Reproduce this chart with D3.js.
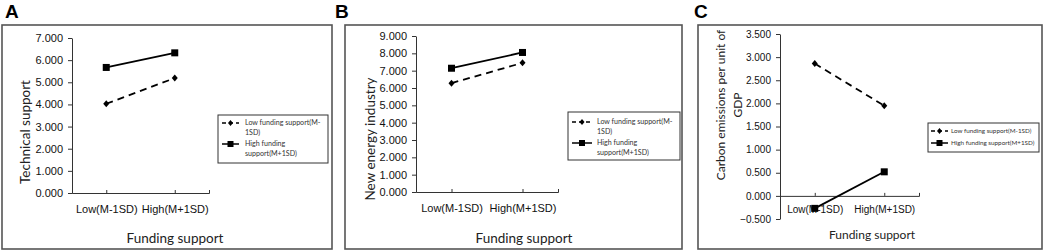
<!DOCTYPE html>
<html>
<head>
<meta charset="utf-8">
<script src="https://cdn.jsdelivr.net/npm/d3@7"></script>
<style>
  body { margin: 0; background: #fff; }
  svg { display: block; }
  .tick text { font-family: 'Liberation Sans', Arial, sans-serif; fill: #111; }
</style>
</head>
<body>
<div id="svg-container"></div>
<script>
// Data
const categories = ['Low(M-1SD)', 'High(M+1SD)']
const techLow = [4.03, 5.19]
const techHigh = [5.67, 6.33]
const energyLow = [6.28, 7.45]
const energyHigh = [7.14, 8.05]
const carbonLow = [2.86, 1.95]
const carbonHigh = [-0.27, 0.52]
const techTicks = [0, 1, 2, 3, 4, 5, 6, 7]
const energyTicks = [0, 1, 2, 3, 4, 5, 6, 7, 8, 9]
const carbonTicks = [-0.5, 0, 0.5, 1, 1.5, 2, 2.5, 3, 3.5]
const legendWrapped = [
  ['Low funding support(M-', '1SD)'],
  ['High funding', 'support(M+1SD)'],
]
const legendSingle = [['Low funding support(M-1SD)'], ['High funding support(M+1SD)']]

// Layout
var svgWidth = 1045,
  svgHeight = 252

var svg = d3
  .select('#svg-container')
  .append('svg')
  .attr('width', svgWidth)
  .attr('height', svgHeight)

const panels = [
  {
    letter: 'A', lx: 5, frame: [2, 25, 332, 249],
    x: [72, 209], y: [193, 38], domain: [0, 7], ticks: techTicks,
    low: techLow, high: techHigh,
    yTitle: ['Technical support'], yTitleX: 25, yTitleY: 132, titleFs: 13.5,
    xTitleX: 175, xTitleY: 238, tickFs: 11, xPad: 12,
    legend: legendWrapped, legendFs: 7.1, box: [218, 115, 328, 163], sample: [222, 239], textX: 245, entryY: [123, 144],
  },
  {
    letter: 'B', lx: 335, frame: [345, 25, 682, 249],
    x: [416, 558], y: [192, 36], domain: [0, 9], ticks: energyTicks,
    low: energyLow, high: energyHigh,
    yTitle: ['New energy industry'], yTitleX: 370, yTitleY: 139, titleFs: 13.5,
    xTitleX: 524, xTitleY: 238, tickFs: 11, xPad: 12,
    legend: legendWrapped, legendFs: 7.1, box: [568, 112, 680, 160], sample: [572, 592], textX: 597, entryY: [122, 143],
  },
  {
    letter: 'C', lx: 694, frame: [698, 25, 1042, 249],
    x: [780, 919], y: [219, 34], domain: [-0.5, 3.5], ticks: carbonTicks,
    low: carbonLow, high: carbonHigh,
    yTitle: ['Carbon emissions per unit of', 'GDP'], yTitleX: 729, yTitleY: 105, titleFs: 12,
    xTitleX: 872, xTitleY: 235, tickFs: 10, xPad: 10,
    legend: legendSingle, legendFs: 6.3, box: [928, 123, 1039, 152], sample: [931, 948], textX: 951, entryY: [131, 143],
  },
]

function drawMarker(g, type, cx, cy) {
  if (type === 'square') {
    g.append('rect')
      .attr('x', cx - 3.5)
      .attr('y', cy - 3.5)
      .attr('width', 7)
      .attr('height', 7)
      .attr('fill', '#000')
  } else {
    g.append('path')
      .attr('d', `M${cx},${cy - 3.5}L${cx + 3},${cy}L${cx},${cy + 3.5}L${cx - 3},${cy}Z`)
      .attr('fill', '#000')
  }
}

function drawPanel(p) {
  var g = svg.append('g')

  // frame + letter
  g.append('rect')
    .attr('x', p.frame[0])
    .attr('y', p.frame[1])
    .attr('width', p.frame[2] - p.frame[0])
    .attr('height', p.frame[3] - p.frame[1])
    .attr('fill', 'none')
    .attr('stroke', '#555')
    .attr('stroke-width', 1.6)

  g.append('text')
    .attr('x', p.lx)
    .attr('y', 18)
    .style('font-family', "'Liberation Sans', Arial, sans-serif")
    .style('font-weight', 'bold')
    .style('font-size', '19px')
    .text(p.letter)

  // scales
  var xScale = d3.scalePoint().domain(categories).range(p.x).padding(0.5)
  var yScale = d3.scaleLinear().domain(p.domain).range(p.y)

  var yAxis = d3
    .axisLeft(yScale)
    .tickValues(p.ticks)
    .tickFormat(d3.format('.3f'))
    .tickSizeInner(4)
    .tickSizeOuter(0)
    .tickPadding(5)
  g.append('g')
    .attr('transform', `translate(${p.x[0]},0)`)
    .call(yAxis)
    .call(s => s.selectAll('text').style('font-size', p.tickFs + 'px'))
    .call(s => s.selectAll('path, line').attr('stroke', '#333'))

  var xAxis = d3
    .axisBottom(xScale)
    .tickSizeInner(-3)
    .tickSizeOuter(-3)
    .tickPadding(p.xPad)
  g.append('g')
    .attr('transform', `translate(0,${yScale(0)})`)
    .call(xAxis)
    .call(s => s.selectAll('text').style('font-size', p.tickFs + 'px'))
    .call(s => s.selectAll('path, line').attr('stroke', '#333'))

  // axis titles
  var yt = g
    .append('text')
    .attr('transform', `translate(${p.yTitleX},${p.yTitleY}) rotate(-90)`)
    .style('text-anchor', 'middle')
    .style('font-family', 'Lato, sans-serif')
    .style('font-size', p.titleFs + 'px')
    .attr('fill', '#222')
  p.yTitle.forEach((t, i) => {
    yt.append('tspan')
      .attr('x', 0)
      .attr('y', (i - (p.yTitle.length - 1) / 2) * 17)
      .attr('dy', '0.35em')
      .text(t)
  })

  g.append('text')
    .attr('x', p.xTitleX)
    .attr('y', p.xTitleY)
    .attr('dy', '0.35em')
    .style('text-anchor', 'middle')
    .style('font-family', 'Lato, sans-serif')
    .style('font-size', p.titleFs + 'px')
    .attr('fill', '#222')
    .text('Funding support')

  // lines
  var linegen = d3
    .line()
    .x((d, i) => xScale(categories[i]))
    .y(d => yScale(d))

  g.append('path')
    .datum(p.low)
    .attr('fill', 'none')
    .attr('stroke', '#000')
    .attr('stroke-width', 1.8)
    .attr('stroke-dasharray', '7,5')
    .attr('d', linegen)
  g.append('path')
    .datum(p.high)
    .attr('fill', 'none')
    .attr('stroke', '#000')
    .attr('stroke-width', 1.8)
    .attr('d', linegen)

  p.low.forEach((v, i) => drawMarker(g, 'diamond', xScale(categories[i]), yScale(v)))
  p.high.forEach((v, i) => drawMarker(g, 'square', xScale(categories[i]), yScale(v)))

  // legend
  g.append('rect')
    .attr('x', p.box[0])
    .attr('y', p.box[1])
    .attr('width', p.box[2] - p.box[0])
    .attr('height', p.box[3] - p.box[1])
    .attr('fill', 'none')
    .attr('stroke', '#333')
    .attr('stroke-width', 1)

  p.legend.forEach((lines, k) => {
    var ly = p.entryY[k]
    g.append('line')
      .attr('x1', p.sample[0])
      .attr('x2', p.sample[1])
      .attr('y1', ly)
      .attr('y2', ly)
      .attr('stroke', '#000')
      .attr('stroke-width', 1.5)
      .attr('stroke-dasharray', k === 0 ? '4,3' : null)
    var mx = (p.sample[0] + p.sample[1]) / 2
    if (k === 0) {
      g.append('path')
        .attr('d', `M${mx},${ly - 3}L${mx + 2.5},${ly}L${mx},${ly + 3}L${mx - 2.5},${ly}Z`)
        .attr('fill', '#000')
    } else {
      g.append('rect')
        .attr('x', mx - 3)
        .attr('y', ly - 3)
        .attr('width', 6)
        .attr('height', 6)
        .attr('fill', '#000')
    }
    lines.forEach((t, j) => {
      g.append('text')
        .attr('x', p.textX)
        .attr('y', ly + j * 10)
        .attr('dy', '0.35em')
        .style('font-family', 'Lato, sans-serif')
        .style('font-size', p.legendFs + 'px')
        .attr('fill', '#333')
        .text(t)
    })
  })
}

panels.forEach(drawPanel)
</script>
</body>
</html>
